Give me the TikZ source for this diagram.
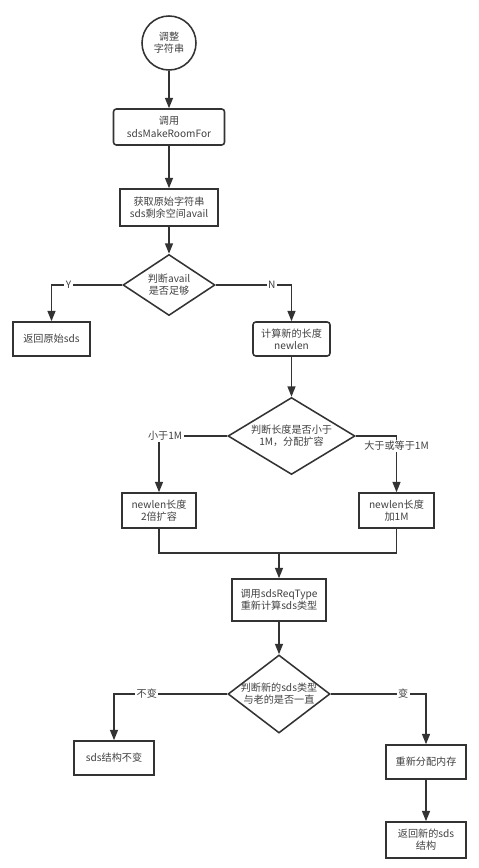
\documentclass[tikz,border=0pt]{standalone}
\usepackage{fontspec}
\setmainfont{Noto Sans CJK SC}
\usetikzlibrary{arrows.meta,%
                shapes.geometric}
\definecolor{linegray}{HTML}{333333}
\definecolor{textgray}{HTML}{404040}

\begin{document}
\begin{tikzpicture}[x=0.025cm,y=-0.025cm,font=\fontsize{7.2pt}{8.7pt}\selectfont,text=textgray]
  \useasboundingbox (0,0) rectangle (479,868);
  \tikzstyle{Box}=[draw=linegray,line width=1.1pt,rectangle,align=center,inner sep=0pt]
  \tikzstyle{RBox}=[Box,rounded corners=2pt]
  \tikzstyle{Cond}=[draw=linegray,line width=1.1pt,diamond,align=center,inner sep=0pt]
  \tikzstyle{LineStyle}=[draw=linegray,line width=1.1pt]
  \tikzstyle{EdgeStyle}=[LineStyle,-{Triangle[length=2.6mm,width=2mm]}]
  \tikzstyle{LabelStyle}=[fill=white,inner sep=1pt]
  % main column
  \node[Box,circle,minimum size=1.35cm] (start) at (169,43) {调整\\字符串};
  \node[RBox,minimum width=2.775cm,minimum height=0.9cm] (call) at (169,127) {调用\\sdsMakeRoomFor};
  \node[Box,minimum width=2.45cm,minimum height=0.925cm] (avail) at (169,207.5) {获取原始字符串\\sds剩余空间avail};
  \node[Cond,aspect=1.5,minimum width=2.3cm,minimum height=1.525cm] (d1) at (169,285) {判断avail\\是否足够};
  \node[Box,minimum width=1.925cm,minimum height=0.85cm] (orig) at (51.5,339) {返回原始sds};
  \node[RBox,minimum width=1.925cm,minimum height=0.85cm] (newlen) at (291.5,339) {计算新的长度\\newlen};
  \node[Cond,aspect=1.65,minimum width=3.175cm,minimum height=1.925cm] (d2) at (291.5,436) {判断长度是否小于\\1M，分配扩容};
  \node[Box,minimum width=1.85cm,minimum height=0.875cm] (dbl) at (159,510.5) {newlen长度\\2倍扩容};
  \node[Box,minimum width=1.875cm,minimum height=0.875cm] (add) at (396.5,510.5) {newlen长度\\加1M};
  \coordinate (mrg) at (279,553);
  \node[Box,minimum width=2.35cm,minimum height=1.05cm] (req) at (279,600) {调用sdsReqType\\重新计算sds类型};
  \node[Cond,aspect=1.3,inner sep=-3pt,minimum width=2.55cm,minimum height=1.95cm] (d3) at (279,694) {判断新的sds类型\\与老的是否一直};
  \node[Box,minimum width=2cm,minimum height=0.85cm] (same) at (114,758) {sds结构不变};
  \node[Box,minimum width=2cm,minimum height=0.85cm] (realloc) at (426,762) {重新分配内存};
  \node[Box,minimum width=2cm,minimum height=0.9cm] (ret) at (426,840) {返回新的sds\\结构};

  \draw[EdgeStyle] (start) -- (call);
  \draw[EdgeStyle] (call) -- (avail);
  \draw[EdgeStyle] (avail) -- (d1);
  \draw[EdgeStyle] (d1.west) -| node[LabelStyle,pos=0.38]{Y} (orig);
  \draw[EdgeStyle] (d1.east) -| node[LabelStyle,pos=0.37]{N} (newlen);
  \draw[EdgeStyle] (newlen) -- (d2);
  \draw[EdgeStyle] (d2.west) -| node[LabelStyle,pos=0.455]{小于1M} (dbl);
  \draw[EdgeStyle] (d2.east) -| node[LabelStyle,pos=0.59]{大于或等于1M} (add);
  \draw[LineStyle] (dbl) |- (mrg);
  \draw[LineStyle] (add) |- (mrg);
  \draw[EdgeStyle] (mrg) -- (req);
  \draw[EdgeStyle] (req) -- (d3);
  \draw[EdgeStyle] (d3.west) -| node[LabelStyle,pos=0.355]{不变} (same);
  \draw[EdgeStyle] (d3.east) -| node[LabelStyle,pos=0.38]{变} (realloc);
  \draw[EdgeStyle] (realloc) -- (ret);
\end{tikzpicture}
\end{document}
